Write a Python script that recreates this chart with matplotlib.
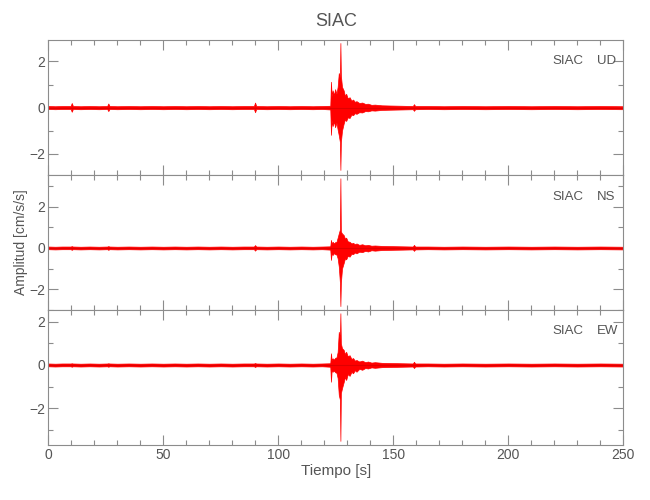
import matplotlib
matplotlib.use("Agg")
import matplotlib.pyplot as plt
from matplotlib.ticker import MultipleLocator

plt.rcParams['font.family'] = ['Liberation Sans Narrow', 'Liberation Sans', 'DejaVu Sans']

estacion = "SIAC"
componentes = ["UD", "NS", "EW"]

# time samples (s) at which the trace envelope was read
tiempo = [0, 3, 6, 9.7, 10.2, 10.7, 14, 18, 22, 25.6,
          26.1, 26.6, 30, 35, 40, 45, 50, 55, 60, 65,
          70, 75, 80, 85, 89.4, 89.9, 90.4, 95, 100, 105,
          110, 115, 119, 122.6, 122.9, 123.2, 123.6, 124.2, 124.7, 125.3,
          125.8, 126.3, 126.8, 127.0, 127.2, 127.7, 128.4, 129.0, 129.5, 130.2,
          131, 131.8, 132.5, 133.3, 134, 135.2, 136.5, 137.8, 139, 140.5,
          142, 145, 149, 154, 158.5, 159, 159.5, 165, 172, 180,
          190, 200, 210, 220, 230, 240, 250]

ud_max = [0.07, 0.06, 0.07, 0.07, 0.20, 0.07, 0.06, 0.07, 0.06, 0.07,
          0.18, 0.07, 0.06, 0.07, 0.06, 0.07, 0.06, 0.07, 0.06, 0.07,
          0.06, 0.07, 0.06, 0.07, 0.07, 0.22, 0.07, 0.06, 0.07, 0.06,
          0.07, 0.06, 0.07, 0.08, 1.12, 0.50, 0.75, 0.55, 0.80, 0.60,
          0.90, 1.50, 1.30, 2.80, 1.40, 0.90, 0.75, 0.50, 0.60, 0.40,
          0.45, 0.30, 0.35, 0.25, 0.28, 0.20, 0.22, 0.16, 0.17, 0.12,
          0.13, 0.10, 0.09, 0.08, 0.07, 0.15, 0.07, 0.07, 0.06, 0.07,
          0.06, 0.07, 0.06, 0.07, 0.06, 0.07, 0.06]
ud_min = [-0.06, -0.07, -0.06, -0.06, -0.18, -0.06, -0.07, -0.06, -0.07, -0.06,
          -0.15, -0.06, -0.07, -0.06, -0.07, -0.06, -0.07, -0.06, -0.07, -0.06,
          -0.07, -0.06, -0.07, -0.06, -0.06, -0.20, -0.06, -0.07, -0.06, -0.07,
          -0.06, -0.07, -0.06, -0.08, -1.18, -0.55, -0.80, -0.60, -0.85, -0.65,
          -0.95, -1.20, -1.50, -2.70, -1.50, -1.00, -0.70, -0.50, -0.58, -0.42,
          -0.45, -0.30, -0.33, -0.24, -0.27, -0.20, -0.21, -0.15, -0.16, -0.12,
          -0.13, -0.10, -0.09, -0.08, -0.07, -0.14, -0.07, -0.06, -0.07, -0.06,
          -0.07, -0.06, -0.07, -0.06, -0.07, -0.06, -0.07]

ns_max = [0.07, 0.06, 0.07, 0.07, 0.09, 0.07, 0.06, 0.07, 0.06, 0.07,
          0.09, 0.07, 0.06, 0.07, 0.06, 0.07, 0.06, 0.07, 0.06, 0.07,
          0.06, 0.07, 0.06, 0.07, 0.07, 0.14, 0.07, 0.06, 0.07, 0.06,
          0.07, 0.06, 0.07, 0.08, 0.39, 0.20, 0.30, 0.22, 0.28, 0.30,
          0.50, 0.71, 0.90, 3.37, 0.80, 0.70, 0.63, 0.45, 0.50, 0.32,
          0.30, 0.22, 0.25, 0.18, 0.22, 0.15, 0.18, 0.13, 0.15, 0.11,
          0.12, 0.10, 0.09, 0.08, 0.07, 0.15, 0.07, 0.07, 0.06, 0.07,
          0.06, 0.07, 0.06, 0.07, 0.06, 0.07, 0.06]
ns_min = [-0.06, -0.07, -0.06, -0.06, -0.09, -0.06, -0.07, -0.06, -0.07, -0.06,
          -0.09, -0.06, -0.07, -0.06, -0.07, -0.06, -0.07, -0.06, -0.07, -0.06,
          -0.07, -0.06, -0.07, -0.06, -0.06, -0.13, -0.06, -0.07, -0.06, -0.07,
          -0.06, -0.07, -0.06, -0.08, -0.58, -0.25, -0.34, -0.25, -0.30, -0.32,
          -0.50, -0.90, -1.70, -2.81, -1.70, -1.00, -0.74, -0.50, -0.55, -0.38,
          -0.42, -0.28, -0.30, -0.22, -0.26, -0.18, -0.20, -0.14, -0.17, -0.11,
          -0.13, -0.10, -0.09, -0.08, -0.07, -0.14, -0.07, -0.06, -0.07, -0.06,
          -0.07, -0.06, -0.07, -0.06, -0.07, -0.06, -0.07]

ew_max = [0.07, 0.06, 0.07, 0.07, 0.08, 0.07, 0.06, 0.07, 0.06, 0.07,
          0.08, 0.07, 0.06, 0.07, 0.06, 0.07, 0.06, 0.07, 0.06, 0.07,
          0.06, 0.07, 0.06, 0.07, 0.07, 0.09, 0.07, 0.06, 0.07, 0.06,
          0.07, 0.06, 0.07, 0.08, 0.54, 0.22, 0.31, 0.25, 0.33, 0.35,
          0.60, 1.53, 1.20, 2.38, 1.00, 0.77, 0.70, 0.50, 0.61, 0.40,
          0.45, 0.28, 0.32, 0.20, 0.23, 0.16, 0.20, 0.13, 0.16, 0.11,
          0.13, 0.10, 0.09, 0.08, 0.07, 0.15, 0.07, 0.07, 0.06, 0.07,
          0.06, 0.07, 0.06, 0.07, 0.06, 0.07, 0.06]
ew_min = [-0.06, -0.07, -0.06, -0.06, -0.08, -0.06, -0.07, -0.06, -0.07, -0.06,
          -0.08, -0.06, -0.07, -0.06, -0.07, -0.06, -0.07, -0.06, -0.07, -0.06,
          -0.07, -0.06, -0.07, -0.06, -0.06, -0.09, -0.06, -0.07, -0.06, -0.07,
          -0.06, -0.07, -0.06, -0.08, -0.77, -0.25, -0.31, -0.26, -0.33, -0.36,
          -0.60, -1.38, -1.60, -3.49, -1.30, -1.07, -0.80, -0.55, -0.69, -0.42,
          -0.50, -0.32, -0.38, -0.24, -0.31, -0.18, -0.22, -0.14, -0.16, -0.11,
          -0.13, -0.10, -0.09, -0.08, -0.07, -0.14, -0.07, -0.06, -0.07, -0.06,
          -0.07, -0.06, -0.07, -0.06, -0.07, -0.06, -0.07]

limites_y = [(-2.92, 2.93), (-3.0, 3.53), (-3.68, 2.53)]
limites_x = (0, 250)

envolventes = [(ud_min, ud_max), (ns_min, ns_max), (ew_min, ew_max)]

gris = '#8c8c8c'
texto = '#555555'

fig = plt.figure(figsize=(6.5, 5), dpi=100)
W, H = 650, 500
left_px, right_px = 48.3, 623.3
bordes = [(40, 175), (175, 310), (310, 445)]

for i, (comp, (lo, hi), (top_px, bot_px)) in enumerate(zip(componentes, envolventes, bordes)):
    ax = fig.add_axes([left_px / W, 1 - bot_px / H,
                       (right_px - left_px) / W, (bot_px - top_px) / H])
    ax.fill_between(tiempo, lo, hi, color='#ff0000', linewidth=0.5,
                    edgecolor='#ff0000')
    ax.plot(tiempo, [0] * len(tiempo), color='#e00000', linewidth=0.8)
    ax.set_xlim(*limites_x)
    ax.set_ylim(*limites_y[i])
    ax.xaxis.set_major_locator(MultipleLocator(50))
    ax.xaxis.set_minor_locator(MultipleLocator(10))
    ax.yaxis.set_major_locator(MultipleLocator(2))
    ax.yaxis.set_minor_locator(MultipleLocator(1))
    ax.tick_params(which='both', direction='in', top=True, right=True,
                   color=gris, width=0.8, labelcolor=texto, labelsize=10, pad=2)
    ax.tick_params(which='major', length=7.2)
    ax.tick_params(which='minor', length=3.6)
    for sp in ax.spines.values():
        sp.set_color(gris)
        sp.set_linewidth(0.8)
    if i < 2:
        ax.tick_params(labelbottom=False)
    ax.text(0.930, 1 - 21.5 / 135, estacion, transform=ax.transAxes,
            ha='right', va='center', fontsize=9.5, color=texto)
    ax.text(0.954, 1 - 21.5 / 135, comp, transform=ax.transAxes,
            ha='left', va='center', fontsize=9.5, color=texto)

fig.text(335.8 / W, 1 - 22 / H, estacion, ha='center', va='center',
         fontsize=13, color=texto)
fig.text(335.8 / W, 1 - 471 / H, "Tiempo [s]", ha='center', va='center',
         fontsize=11, color=texto)
fig.text(21 / W, 1 - 242 / H, "Amplitud [cm/s/s]", ha='center', va='center',
         rotation=90, fontsize=10, color=texto)

fig.savefig("out.png", dpi=100, facecolor='white')
